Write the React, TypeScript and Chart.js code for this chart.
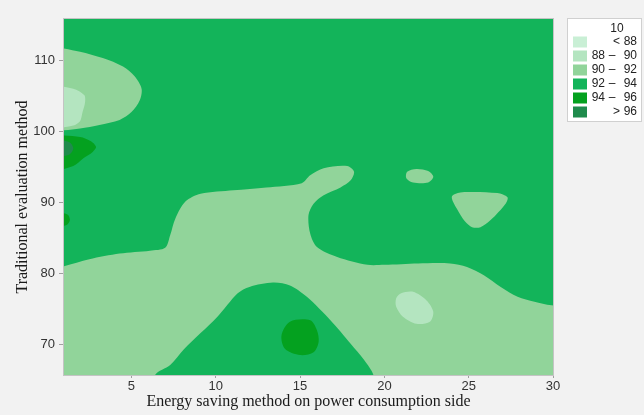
import React, { useEffect, useRef } from 'react';
import { Chart, registerables } from 'chart.js';

Chart.register(...registerables);

// ---------- data ----------
const xRange = [1, 30];
const yRange = [65.7, 115.8];
const xTicks = [5, 10, 15, 20, 25, 30];
const yTicks = [70, 80, 90, 100, 110];
const xTitle = 'Energy saving method on power consumption side';
const yTitle = 'Traditional evaluation method';
const legendTitle = '10';
const levelLow: (number | null)[] = [null, 88, 90, 92, 94, 96];
const levelHigh: (number | null)[] = [88, 90, 92, 94, 96, null];
const levelColors = ['#c9efd5', '#b4e5c0', '#91d49a', '#13b45a', '#04a11f', '#1f8b4c'];
const baseLevel = 3;

// contour region boundaries (x, y)
const band9092 = [
  [0, 60], [0, 80.3], [1, 81.0], [2.5, 82.0], [4.3, 82.8], [6.1, 83.2], [7.0, 83.6], [7.3, 85.4],
  [7.6, 87.7], [8.2, 90.1], [9.1, 91.2], [11.05, 91.7], [13.0, 92.1], [15.1, 92.7], [15.6, 93.8],
  [16.4, 94.8], [17.8, 95.1], [18.2, 94.3], [18.0, 93.1], [17.4, 92.1], [16.4, 91.0], [15.8, 89.8],
  [15.5, 88.2], [15.6, 85.6], [16.0, 83.7], [17.2, 82.3], [19.0, 81.2], [20.0, 81.2], [22.0, 81.4],
  [23.9, 81.4], [24.9, 80.9], [25.9, 79.75], [26.9, 78.1], [27.9, 76.7], [28.9, 76.0], [29.9, 75.5],
  [32, 75.1], [33, 60],
];
const mound9294 = [
  [6.0, 62], [6.4, 65.7], [7.3, 67.1], [8.1, 69.3], [10.1, 73.9], [11.3, 77.2], [12.0, 78.1],
  [13.4, 78.7], [14.4, 78.3], [15.4, 76.7], [16.8, 73.4], [18.0, 70.1], [18.8, 67.8], [19.35, 65.7],
  [19.6, 62],
];
const spot9496 = [
  [14.4, 73.2], [15.6, 73.4], [16.0, 72.0], [16.1, 70.35], [15.8, 68.9], [15.0, 68.5], [14.1, 69.4],
  [13.9, 71.3],
];
const spot8890 = [
  [21.0, 77.2], [21.7, 77.4], [22.5, 76.2], [22.9, 74.6], [22.7, 73.2], [21.9, 72.9], [21.1, 73.9],
  [20.7, 75.3], [20.7, 76.5],
];
const blobSmall9092 = [
  [21.35, 94.3], [21.9, 94.7], [22.6, 94.4], [22.9, 93.6], [22.6, 92.8], [21.7, 92.8], [21.3, 93.4],
];
const blobTri9092 = [
  [24.0, 90.8], [24.5, 91.4], [26.7, 91.3], [27.3, 90.7], [27.2, 89.85], [26.3, 87.5], [25.7, 86.5],
  [25.2, 86.5], [24.8, 87.25], [24.3, 89.1],
];
const lobe9092 = [
  [-1, 112.5], [0, 112.1], [1.95, 111.2], [3.3, 110.3], [4.5, 109.1], [5.2, 107.7], [5.6, 106.0], [5.5, 104.4],
  [5.0, 102.7], [4.3, 101.6], [3.1, 100.9], [1.95, 100.4], [0, 99.9], [-1, 99.7],
];
const lobe8890 = [
  [-1, 106.9], [0, 106.6], [1.55, 106.0], [2.2, 105.1], [2.25, 104.1], [2.1, 102.7], [1.95, 101.4], [1.55, 100.8],
  [0, 100.3], [-1, 100.1],
];
const left9496a = [
  [-1, 99.6], [0, 99.5], [1.95, 99.2], [2.6, 98.6], [2.9, 97.8], [2.7, 97.1], [2.15, 96.2], [1.55, 95.1], [0, 94.1], [-1, 93.6],
];
const left96 = [[-1, 99.2], [0, 99.0], [1.3, 98.5], [1.55, 97.6], [1.3, 96.7], [0, 96.2], [-1, 96.0]];
const left9496b = [[-1, 89.0], [0, 88.8], [1.2, 88.3], [1.35, 87.5], [1.15, 86.8], [0, 86.3], [-1, 86.1]];

// drawing order: bottom to top
const regions: { level: number; pts: number[][]; tension?: number; closed?: boolean }[] = [
  {
    level: baseLevel,
    tension: 0,
    pts: [
      [xRange[0] - 1, yRange[0] - 1], [xRange[1] + 1, yRange[0] - 1],
      [xRange[1] + 1, yRange[1] + 1], [xRange[0] - 1, yRange[1] + 1],
    ],
  },
  { level: 2, pts: band9092 },
  { level: 3, pts: mound9294 },
  { level: 4, pts: spot9496, closed: true },
  { level: 1, pts: spot8890, closed: true },
  { level: 2, pts: blobSmall9092, closed: true },
  { level: 2, pts: blobTri9092, closed: true },
  { level: 2, pts: lobe9092 },
  { level: 1, pts: lobe8890 },
  { level: 4, pts: left9496a },
  { level: 5, pts: left96 },
  { level: 4, pts: left9496b },
];

const tickFont = { family: '"Liberation Sans", Arial, sans-serif', size: 13 };
const titleFont = { family: '"Liberation Serif", "Times New Roman", serif', size: 16 };

const framePlugin = {
  id: 'frame',
  afterDatasetsDraw(chart: any) {
    const { ctx, chartArea: a } = chart;
    ctx.save();
    ctx.strokeStyle = '#c4c4c4';
    ctx.lineWidth = 1;
    ctx.strokeRect(a.left - 0.5, a.top - 0.5, a.right - a.left + 1, a.bottom - a.top + 1);
    ctx.restore();
  },
};

const legendPlugin = {
  id: 'contourLegend',
  afterDraw(chart: any) {
    const { ctx, chartArea: a } = chart;
    const bx = a.right + 14;
    const by = a.top - 1;
    const bw = 75;
    const bh = 104;
    ctx.save();
    ctx.fillStyle = '#ffffff';
    ctx.fillRect(bx, by, bw, bh);
    ctx.strokeStyle = '#d0d0d0';
    ctx.lineWidth = 1;
    ctx.strokeRect(bx + 0.5, by + 0.5, bw - 1, bh - 1);
    ctx.font = '12px "Liberation Sans", Arial, sans-serif';
    ctx.fillStyle = '#222';
    ctx.textBaseline = 'middle';
    ctx.textAlign = 'center';
    ctx.fillText(legendTitle, bx + 50, by + 11);
    levelColors.forEach((c, i) => {
      const cy = by + 24 + i * 14;
      ctx.fillStyle = c;
      ctx.fillRect(bx + 6, cy - 5.5, 14, 11);
      ctx.fillStyle = '#222';
      const lo = levelLow[i];
      const hi = levelHigh[i];
      ctx.textAlign = 'right';
      if (lo === null) {
        ctx.fillText(String(hi), bx + 70, cy);
        ctx.fillText('<', bx + 53, cy);
      } else if (hi === null) {
        ctx.fillText(String(lo), bx + 70, cy);
        ctx.fillText('>', bx + 53, cy);
      } else {
        ctx.fillText(String(hi), bx + 70, cy);
        ctx.fillText(String(lo), bx + 38, cy);
        ctx.textAlign = 'center';
        ctx.fillText('\u2013', bx + 45, cy);
      }
    });
    ctx.restore();
  },
};

export default function App() {
  const ref = useRef<HTMLCanvasElement | null>(null);
  useEffect(() => {
    if (!ref.current) return;
    const datasets = regions.map((r, i) => {
      const pts = r.closed ? [...r.pts, r.pts[0], r.pts[1], r.pts[2]] : r.pts;
      return {
        data: pts.map(([x, y]) => ({ x, y })),
        backgroundColor: levelColors[r.level],
        borderColor: levelColors[r.level],
        borderWidth: 0,
        pointRadius: 0,
        fill: 'shape',
        tension: r.tension ?? 0.3,
        order: regions.length - i,
      };
    });
    const chart = new Chart(ref.current, {
      type: 'line',
      data: { datasets } as any,
      options: {
        animation: false,
        responsive: false,
        events: [],
        layout: { padding: { left: 0, top: 19, right: 91, bottom: 0 } },
        elements: { line: { capBezierPoints: false } },
        plugins: { legend: { display: false }, tooltip: { enabled: false } },
        scales: {
          x: {
            type: 'linear',
            min: xRange[0],
            max: xRange[1],
            afterBuildTicks: (s: any) => { s.ticks = xTicks.map((v) => ({ value: v })); },
            afterFit: (s: any) => { s.height = 40; },
            grid: { drawOnChartArea: false, tickLength: 3, color: '#a0a0a0' },
            border: { display: false },
            ticks: { padding: 1, color: '#333', font: tickFont, maxRotation: 0, autoSkip: false },
            title: { display: true, text: xTitle, color: '#1a1a1a', font: titleFont, padding: { top: 0, bottom: 4 } },
          },
          y: {
            type: 'linear',
            min: yRange[0],
            max: yRange[1],
            afterBuildTicks: (s: any) => { s.ticks = yTicks.map((v) => ({ value: v })); },
            afterFit: (s: any) => { s.width = 64; },
            grid: { drawOnChartArea: false, tickLength: 5, color: '#a0a0a0' },
            border: { display: false },
            ticks: { padding: 4, color: '#333', font: tickFont, autoSkip: false },
            title: { display: true, text: yTitle, color: '#1a1a1a', font: titleFont, padding: { top: 13, bottom: 0 } },
          },
        },
      } as any,
      plugins: [framePlugin, legendPlugin],
    });
    return () => chart.destroy();
  }, []);
  return (
    <div style={{ position: 'absolute', left: 0, top: 0, width: 644, height: 415, background: '#f2f2f2' }}>
      <canvas ref={ref} width={644} height={415} style={{ display: 'block' }} />
    </div>
  );
}
